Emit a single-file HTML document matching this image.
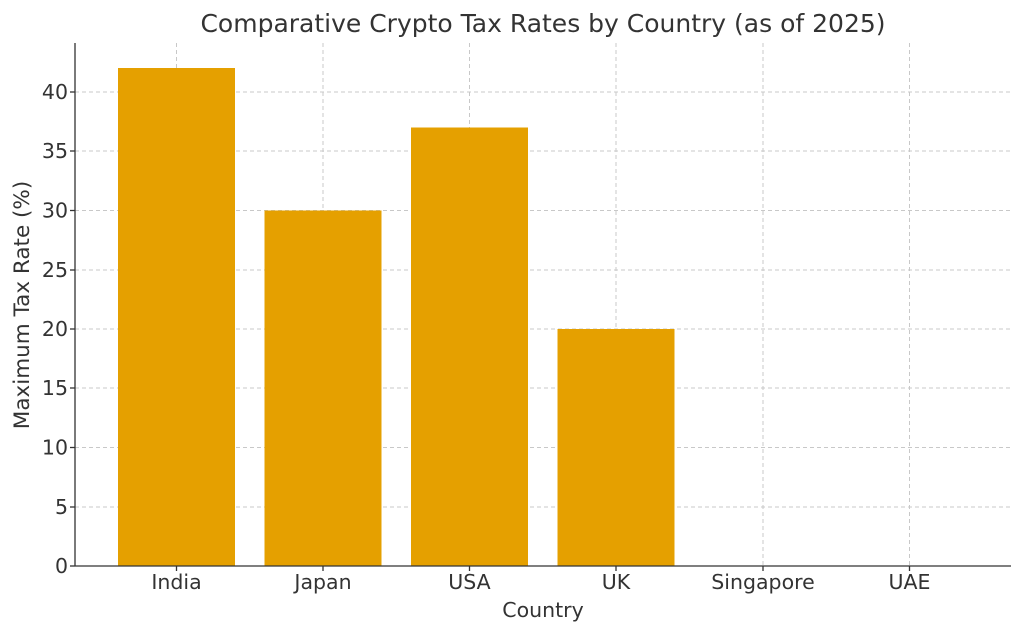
<!DOCTYPE html>
<html><head><meta charset="utf-8"><style>body{margin:0;background:#fff}</style></head><body>
<svg width="1024" height="635" xmlns="http://www.w3.org/2000/svg" font-family="DejaVu Sans, Liberation Sans, sans-serif" fill="#333">
<g stroke="#c8c8c8" stroke-dasharray="4,3" stroke-width="1">
<line x1="75" x2="1010" y1="507" y2="507"/><line x1="75" x2="1010" y1="447.5" y2="447.5"/>
<line x1="75" x2="1010" y1="388" y2="388"/><line x1="75" x2="1010" y1="329" y2="329"/>
<line x1="75" x2="1010" y1="270" y2="270"/><line x1="75" x2="1010" y1="210.5" y2="210.5"/>
<line x1="75" x2="1010" y1="151" y2="151"/><line x1="75" x2="1010" y1="92" y2="92"/>
<line x1="176.5" x2="176.5" y1="43" y2="566"/><line x1="323" x2="323" y1="43" y2="566"/>
<line x1="469.5" x2="469.5" y1="43" y2="566"/><line x1="616" x2="616" y1="43" y2="566"/>
<line x1="763" x2="763" y1="43" y2="566"/><line x1="909.5" x2="909.5" y1="43" y2="566"/>
</g>
<g fill="#e5a000">
<rect x="118" y="68" width="117" height="498"/>
<rect x="264.5" y="210.5" width="117" height="355.5"/>
<rect x="411" y="127.5" width="117" height="438.5"/>
<rect x="557.5" y="329" width="117" height="237"/>
</g>
<g stroke="#333" stroke-width="1.3">
<line x1="75" x2="75" y1="43" y2="566"/><line x1="75" x2="1011" y1="566" y2="566"/>
<line x1="70" x2="75" y1="566" y2="566"/><line x1="70" x2="75" y1="507" y2="507"/><line x1="70" x2="75" y1="447.5" y2="447.5"/><line x1="70" x2="75" y1="388" y2="388"/><line x1="70" x2="75" y1="329" y2="329"/><line x1="70" x2="75" y1="270" y2="270"/><line x1="70" x2="75" y1="210.5" y2="210.5"/><line x1="70" x2="75" y1="151" y2="151"/><line x1="70" x2="75" y1="92" y2="92"/>
<line x1="176.5" x2="176.5" y1="566" y2="571"/><line x1="323" x2="323" y1="566" y2="571"/><line x1="469.5" x2="469.5" y1="566" y2="571"/><line x1="616" x2="616" y1="566" y2="571"/><line x1="763" x2="763" y1="566" y2="571"/><line x1="909.5" x2="909.5" y1="566" y2="571"/>
</g>
<g font-size="20.5" text-anchor="end">
<text x="68" y="573">0</text><text x="68" y="514">5</text><text x="68" y="454.5">10</text><text x="68" y="395">15</text><text x="68" y="336">20</text><text x="68" y="277">25</text><text x="68" y="217.5">30</text><text x="68" y="158">35</text><text x="68" y="99">40</text>
</g>
<g font-size="20.5" text-anchor="middle">
<text x="176.5" y="589">India</text><text x="323" y="589">Japan</text><text x="469.5" y="589">USA</text><text x="616" y="589">UK</text><text x="763" y="589">Singapore</text><text x="909.5" y="589">UAE</text>
<text x="543" y="617">Country</text>
<text x="543" y="32" font-size="25">Comparative Crypto Tax Rates by Country (as of 2025)</text>
<text transform="translate(29,305) rotate(-90)" font-size="21.5">Maximum Tax Rate (%)</text>
</g>
</svg>
</body></html>
